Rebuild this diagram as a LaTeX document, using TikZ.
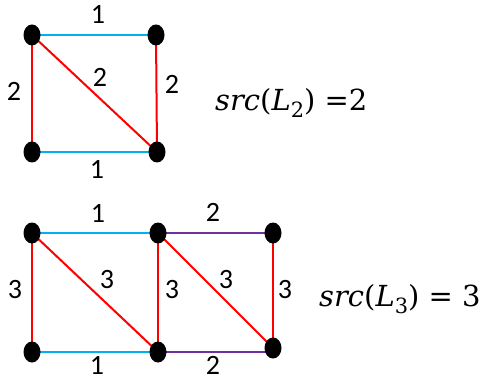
\documentclass[tikz,border=0pt]{standalone}
\usepackage{fontspec}
\setmainfont{Carlito}
\newfontfamily\eqfont{DejaVu Serif}
\usetikzlibrary{shapes.geometric}
\definecolor{eblue}{RGB}{0,176,240}
\definecolor{ered}{RGB}{255,0,0}
\definecolor{epurple}{RGB}{112,48,160}
\newcommand{\sub}[1]{\raisebox{-0.25em}{\fontsize{21}{21}\selectfont #1}}
\begin{document}
\begin{tikzpicture}[x=1pt,y=-1pt,
  dot/.style={ellipse,fill=black,minimum width=17pt,minimum height=21pt,inner sep=0pt},
  edge/.style={line width=2pt},
  lbl/.style={font=\fontsize{28}{28}\selectfont,inner sep=0pt,text height=0.64em,text depth=0pt},
  eq/.style={font=\eqfont\fontsize{29}{29}\selectfont,inner sep=0pt,anchor=west}]
\useasboundingbox (0,0) rectangle (487,382);
% top graph
\coordinate (a1) at (32,35);
\coordinate (a2) at (156,35);
\coordinate (a3) at (32,152);
\coordinate (a4) at (157,152);
\draw[edge,eblue] (a1) -- (a2);
\draw[edge,eblue] (a3) -- (a4);
\draw[edge,ered] (a1) -- (a3);
\draw[edge,ered] (a1) -- (a4);
\draw[edge,ered] (a2) -- (a4);
\foreach \n in {a1,a2,a3,a4} \node[dot] at (\n) {};
\node[lbl] (t1) at (98,20) {1};
\node[lbl] (t2) at (14,97) {2};
\node[lbl] (t3) at (100,83) {2};
\node[lbl] (t4) at (172,90) {2};
\node[lbl] (t5) at (97,175) {1};
\node[eq] (e1) at (215,103) {\textit{src}(\textit{L}\sub{2}) =2};
% bottom graph
\coordinate (b1) at (32,233);
\coordinate (b2) at (158,233);
\coordinate (b3) at (273,233);
\coordinate (b4) at (32,352);
\coordinate (b5) at (158,352);
\coordinate (b6) at (273,348);
\draw[edge,eblue] (b1) -- (b2);
\draw[edge,eblue] (b4) -- (b5);
\draw[edge,epurple] (b2) -- (b3);
\draw[edge,epurple] (b5) -- (b6 |- b5);
\draw[edge,ered] (b1) -- (b4);
\draw[edge,ered] (b1) -- (b5);
\draw[edge,ered] (b2) -- (b5);
\draw[edge,ered] (b2) -- (b6);
\draw[edge,ered] (b3) -- (b6);
\foreach \n in {b1,b2,b3,b4,b5,b6} \node[dot] at (\n) {};
\node[lbl] (s1) at (98,219) {1};
\node[lbl] (s2) at (213,218) {2};
\node[lbl] (s3) at (15,295) {3};
\node[lbl] (s4) at (107,285) {3};
\node[lbl] (s5) at (172,295) {3};
\node[lbl] (s6) at (226,285) {3};
\node[lbl] (s7) at (285,295) {3};
\node[lbl] (s8) at (97,371) {1};
\node[lbl] (s9) at (213,371) {2};
\node[eq] (e2) at (319,299) {\textit{src}(\textit{L}\sub{3}) = 3};
\end{tikzpicture}
\end{document}
